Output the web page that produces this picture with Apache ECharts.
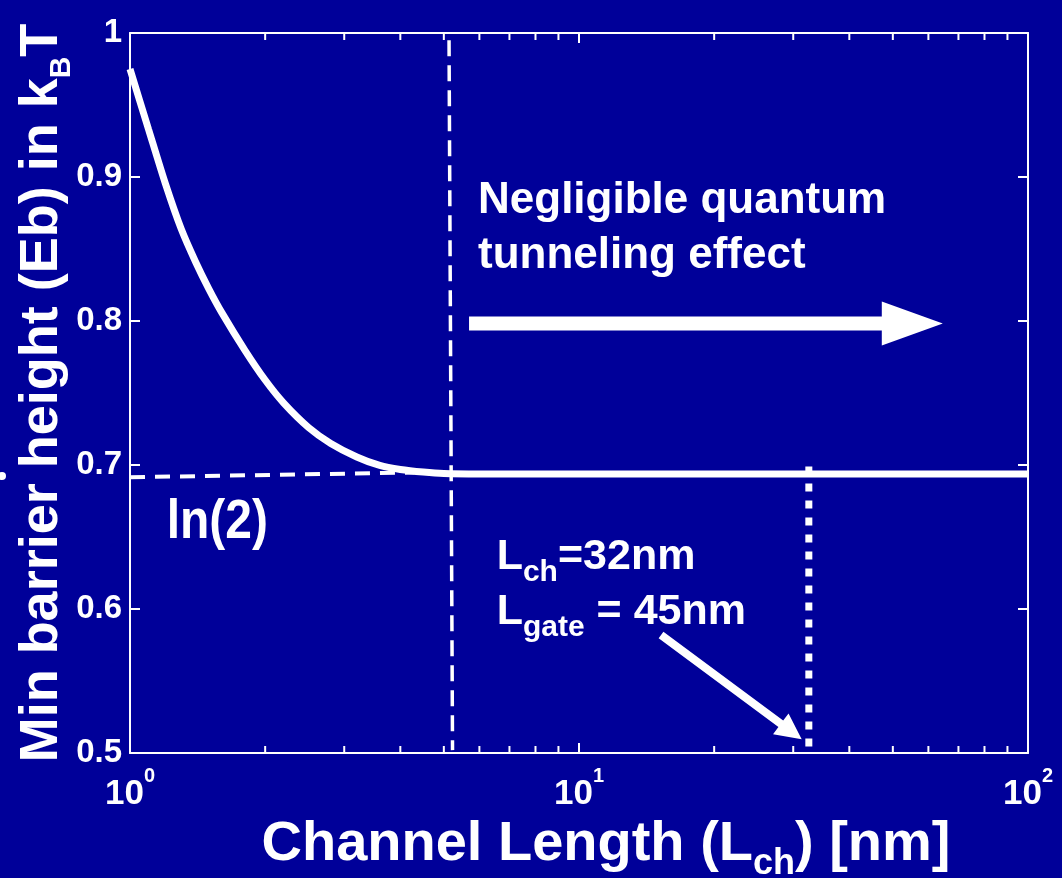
<!DOCTYPE html>
<html><head><meta charset="utf-8">
<script src="https://cdn.jsdelivr.net/npm/echarts@6/dist/echarts.min.js"></script>
<style>html,body{margin:0;padding:0;background:#000099;}#c{width:1062px;height:878px;}</style>
</head><body><div id="c"></div>
<script>
// ---- data ----
const curveL  = [1.0, 1.1, 1.2, 1.3, 1.4, 1.5, 1.6, 1.8, 2.0, 2.2, 2.5, 2.8, 3.2, 3.6, 4.0, 4.5, 5.0, 6.0, 10, 30, 100];
const curveEb = [0.975, 0.933, 0.895, 0.864, 0.841, 0.822, 0.806, 0.780, 0.759, 0.743, 0.726, 0.715, 0.7056, 0.6997, 0.6969, 0.6951, 0.6941, 0.6938, 0.6938, 0.6938, 0.6938];
const ln2GuideL  = [1, 4.3];
const ln2GuideEb = [0.6915, 0.6948];
const quantumLimitL  = [5.135, 5.228];
const quantumLimitEb = [0.995, 0.502];
const nodeL  = [32.5, 32.5];
const nodeEb = [0.699, 0.5];
const minorTicksL = [2, 3, 4, 5, 6, 7, 8, 9, 20, 30, 40, 50, 60, 70, 80, 90];
const arrowFromL  = [5.69, 15.23];
const arrowFromEb = [0.7983, 0.582];
const arrowToL    = [64.6, 31.33];
const arrowToEb   = [0.7983, 0.5095];
const yMin = 0.5, yMax = 1, yStep = 0.1;
const xMin = 1, xMax = 100;
const noteTexts = ['Negligible quantum', 'tunneling effect', 'ln(2)', '{m|L}{s|ch}{m|=32nm}', '{m|L}{s|gate}{m| = 45nm}'];
const noteL  = [5.958, 5.958, 1.207, 6.556, 6.556];
const noteEb = [0.8833, 0.8451, 0.660, 0.6358, 0.5981];

// ---- styles ----
const FONT = '"Liberation Sans", Arial, Helvetica, sans-serif';
const WHITE = '#ffffff';
const arrowShape = [{shaft: 14, headLen: 61, headW: 44}, {shaft: 8, headLen: 26, headW: 26}];

const chart = echarts.init(document.getElementById('c'), null, {renderer: 'canvas'});

const pairs = (xs, ys) => xs.map((x, i) => [x, ys[i]]);
const axisLineStyle = {show: true, lineStyle: {color: WHITE, width: 2}};
const tickStyle = {show: true, inside: true, length: 10, lineStyle: {color: WHITE, width: 2}};

const option = {
  backgroundColor: '#000099',
  animation: false,
  grid: {left: 130, right: 34, top: 33, bottom: 125, containLabel: false, outerBoundsMode: 'none'},
  xAxis: [
    {
      type: 'log', logBase: 10, min: xMin, max: xMax, position: 'bottom',
      axisLine: axisLineStyle, axisTick: tickStyle,
      splitLine: {show: false}, minorTick: {show: false},
      axisLabel: {
        show: true, margin: 21, color: WHITE,
        formatter: v => '{a|10}{b|' + Math.round(Math.log10(v)) + '}',
        rich: {
          a: {fontSize: 35, lineHeight: 40, fontWeight: 'bold', fontFamily: FONT, color: WHITE},
          b: {fontSize: 20, lineHeight: 4, padding: [0, 0, 35, 0], fontWeight: 'bold', fontFamily: FONT, color: WHITE}
        }
      },
      name: '{m|Channel Length (L}{s|ch}{m|) [nm]}',
      nameLocation: 'middle', nameGap: 64, nameMoveOverlap: false,
      nameTextStyle: {
        padding: [0, 0, 0, 54],
        rich: {
          m: {fontSize: 56, lineHeight: 56, fontWeight: 'bold', fontFamily: FONT, color: WHITE},
          s: {fontSize: 36, lineHeight: 10, padding: [39, 0, 0, 0], fontWeight: 'bold', fontFamily: FONT, color: WHITE}
        }
      }
    },
    {
      type: 'log', logBase: 10, min: xMin, max: xMax, position: 'top',
      axisLine: axisLineStyle, axisTick: tickStyle,
      splitLine: {show: false}, axisLabel: {show: false}
    }
  ],
  yAxis: [
    {
      type: 'value', min: yMin, max: yMax, interval: yStep, position: 'left',
      axisLine: axisLineStyle, axisTick: tickStyle, splitLine: {show: false},
      axisLabel: {
        show: true, margin: 8, color: WHITE, fontSize: 33, fontWeight: 'bold', fontFamily: FONT,
        formatter: v => (Math.abs(v - 1) < 1e-9 ? '1' : v.toFixed(1))
      },
      name: '{m|Min barrier height (Eb) in k}{s|B}{m|T}',
      nameLocation: 'middle', nameRotate: 90, nameGap: 60, nameMoveOverlap: false,
      nameTextStyle: {
        rich: {
          m: {fontSize: 54, lineHeight: 56, fontWeight: 'bold', fontFamily: FONT, color: WHITE},
          s: {fontSize: 30, lineHeight: 10, padding: [40, 0, 0, 0], fontWeight: 'bold', fontFamily: FONT, color: WHITE}
        }
      }
    },
    {
      type: 'value', min: yMin, max: yMax, interval: yStep, position: 'right',
      axisLine: axisLineStyle, axisTick: tickStyle, splitLine: {show: false}, axisLabel: {show: false}
    }
  ],
  series: [
    {
      name: 'Eb', type: 'line', data: pairs(curveL, curveEb), symbol: 'none', smooth: 0.25,
      lineStyle: {color: WHITE, width: 7}, z: 5
    },
    {
      name: 'ln2', type: 'line', data: pairs(ln2GuideL, ln2GuideEb), symbol: 'none',
      lineStyle: {color: WHITE, width: 4, type: [15, 10]}, z: 4
    },
    {
      name: 'quantum', type: 'line', data: pairs(quantumLimitL, quantumLimitEb), symbol: 'none',
      lineStyle: {color: WHITE, width: 3.5, type: [16, 9]}, z: 4
    },
    {
      name: 'node', type: 'line', data: pairs(nodeL, nodeEb), symbol: 'none',
      lineStyle: {color: WHITE, width: 7, type: [8, 9], cap: 'butt'}, z: 4
    },
    {
      name: 'minorTicks', type: 'custom', clip: false, silent: true,
      data: minorTicksL.map(l => [l, yMin]),
      encode: {x: 0, y: 1},
      renderItem: (params, api) => {
        const l = api.value(0);
        const b = api.coord([l, yMin]);
        const t = api.coord([l, yMax]);
        const st = {stroke: WHITE, lineWidth: 2};
        return {type: 'group', children: [
          {type: 'line', shape: {x1: b[0], y1: b[1], x2: b[0], y2: b[1] - 7}, style: st},
          {type: 'line', shape: {x1: t[0], y1: t[1], x2: t[0], y2: t[1] + 7}, style: st}
        ]};
      }
    },
    {
      name: 'arrows', type: 'custom', clip: false, silent: true,
      data: arrowFromL.map((l, i) => [l, arrowFromEb[i], arrowToL[i], arrowToEb[i]]),
      encode: {x: [0, 2], y: [1, 3]},
      renderItem: (params, api) => {
        const p1 = api.coord([api.value(0), api.value(1)]);
        const p2 = api.coord([api.value(2), api.value(3)]);
        const s = arrowShape[params.dataIndex];
        const dx = p2[0] - p1[0], dy = p2[1] - p1[1];
        const len = Math.hypot(dx, dy);
        const ux = dx / len, uy = dy / len;
        const nx = -uy, ny = ux;
        const bx = p2[0] - ux * s.headLen, by = p2[1] - uy * s.headLen;
        const pts = [
          [p1[0] + nx * s.shaft / 2, p1[1] + ny * s.shaft / 2],
          [bx + nx * s.shaft / 2, by + ny * s.shaft / 2],
          [bx + nx * s.headW / 2, by + ny * s.headW / 2],
          [p2[0], p2[1]],
          [bx - nx * s.headW / 2, by - ny * s.headW / 2],
          [bx - nx * s.shaft / 2, by - ny * s.shaft / 2],
          [p1[0] - nx * s.shaft / 2, p1[1] - ny * s.shaft / 2]
        ];
        return {type: 'polygon', shape: {points: pts}, style: {fill: WHITE}};
      }
    }
  ]
};
chart.setOption(option);

// annotations anchored in data coordinates
const toPx = (l, eb) => chart.convertToPixel({xAxisIndex: 0, yAxisIndex: 0}, [l, eb]);
const noteStyles = [
  {font: 'bold 44px ' + FONT},
  {font: 'bold 44px ' + FONT},
  {font: 'bold 48px ' + FONT, scaleY: 1.17},
  {rich: {m: {fontSize: 43, lineHeight: 44, fontWeight: 'bold', fontFamily: FONT, color: WHITE},
          s: {fontSize: 30, lineHeight: 10, padding: [31, 0, 0, 0], fontWeight: 'bold', fontFamily: FONT, color: WHITE}}},
  {rich: {m: {fontSize: 43, lineHeight: 44, fontWeight: 'bold', fontFamily: FONT, color: WHITE},
          s: {fontSize: 30, lineHeight: 10, padding: [31, 0, 0, 0], fontWeight: 'bold', fontFamily: FONT, color: WHITE}}}
];
const graphics = noteTexts.map((txt, i) => {
  const p = toPx(noteL[i], noteEb[i]);
  const ns = noteStyles[i];
  const style = {text: txt, fill: WHITE, align: 'left', verticalAlign: 'middle'};
  if (ns.font) style.font = ns.font;
  if (ns.rich) style.rich = ns.rich;
  const el = {type: 'text', x: p[0], y: p[1], style: style, z: 10};
  if (ns.scaleY) el.scaleY = ns.scaleY;
  return el;
});
graphics.push({type: 'circle', shape: {cx: 2, cy: 476, r: 4}, style: {fill: WHITE}});
chart.setOption({graphic: graphics});
</script>
</body></html>
